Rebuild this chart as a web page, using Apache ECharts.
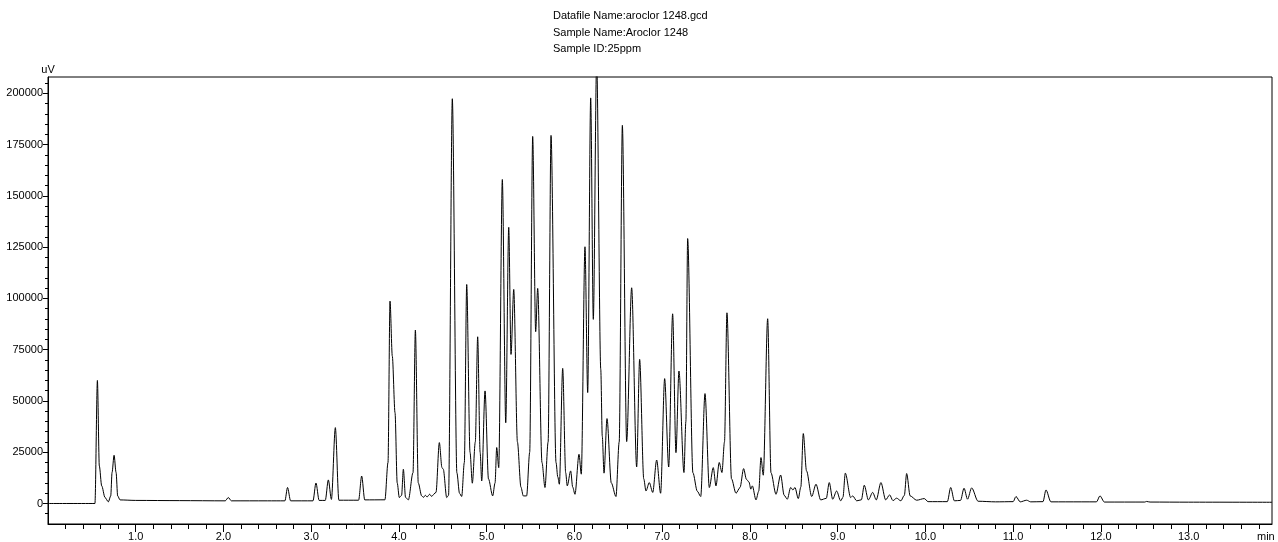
<!DOCTYPE html>
<html>
<head>
<meta charset="UTF-8">
<title>aroclor 1248</title>
<style>
    html, body { margin: 0; padding: 0; background: #fff; }
    #chart { width: 1278px; height: 542px; }
</style>
</head>
<body>
<div id="chart"></div>
<script src="https://cdn.jsdelivr.net/npm/echarts@6/dist/echarts.min.js"></script>
<script>
// chromatogram: [time (min), signal (uV)]
var solventPeaks = [
    [0, 0], [0.535, 0], [0.563, 60000], [0.585, 18300], [0.612, 8600], [0.65, 2900],
    [0.688, 800], [0.715, 3700], [0.73, 15100], [0.753, 23500], [0.776, 15100],
    [0.794, 3700], [0.821, 1750]
];
var earlyPeaks = [
    [1.0, 1500], [1.5, 1400], [2.02, 1300], [2.055, 2900], [2.09, 1300], [2.5, 1300],
    [2.70, 1300], [2.73, 7800], [2.765, 1300], [3.02, 1300], [3.054, 10000], [3.09, 1500],
    [3.16, 1500], [3.195, 11500], [3.23, 2000], [3.275, 37000], [3.315, 1600], [3.54, 1600],
    [3.575, 13400], [3.61, 1760], [3.84, 1800], [3.875, 20000], [3.898, 98700], [3.924, 71900],
    [3.955, 44300], [3.98, 10000], [4.004, 2900], [4.03, 4000], [4.05, 16700], [4.075, 3000],
    [4.107, 1760], [4.16, 15000], [4.187, 84600], [4.22, 10000], [4.259, 3700], [4.28, 3000],
    [4.30, 4000], [4.32, 3200], [4.35, 4500], [4.37, 3500], [4.422, 5400], [4.46, 29700],
    [4.49, 17500], [4.505, 16700], [4.544, 2900]
];
var mainCluster = [
    [4.565, 4000], [4.608, 197400], [4.66, 15000], [4.69, 5000], [4.715, 3400], [4.745, 20000],
    [4.772, 106800], [4.81, 25000], [4.836, 9900], [4.87, 30000], [4.897, 81300], [4.925, 25000],
    [4.943, 11000], [4.981, 54900], [5.02, 12000], [5.068, 3700], [5.095, 10000], [5.114, 27300],
    [5.137, 17500], [5.178, 158000], [5.217, 39400], [5.251, 134700], [5.277, 72700],
    [5.308, 104400], [5.35, 30000], [5.39, 8000], [5.417, 3700], [5.455, 3700], [5.49, 25000],
    [5.524, 179000], [5.558, 83800], [5.581, 104900], [5.63, 20000], [5.664, 7800], [5.70, 30000],
    [5.733, 179500], [5.79, 20000], [5.81, 13000], [5.828, 9400], [5.866, 65900], [5.90, 15000],
    [5.918, 8600], [5.957, 15900], [5.98, 8000], [6.006, 4500], [6.052, 24000], [6.078, 14300],
    [6.12, 125200], [6.151, 54100], [6.185, 197800], [6.215, 89800], [6.253, 216000],
    [6.30, 65400], [6.317, 32900], [6.337, 14800], [6.371, 41400], [6.42, 10000], [6.473, 3400],
    [6.51, 30000], [6.546, 184400], [6.595, 30200], [6.652, 105200], [6.709, 17800],
    [6.743, 70300], [6.79, 12000], [6.815, 6100], [6.853, 10200], [6.892, 5400], [6.937, 21200],
    [6.982, 5000], [7.028, 60900], [7.074, 17800], [7.119, 92500], [7.157, 24800], [7.191, 64600],
    [7.248, 15100], [7.27, 40000], [7.29, 129200], [7.35, 15000], [7.40, 6000], [7.439, 3400],
    [7.488, 53600], [7.537, 7800], [7.582, 17500], [7.613, 8600], [7.65, 20000], [7.681, 15100],
    [7.71, 30000], [7.738, 93000], [7.79, 12000], [7.841, 5000]
];
var latePeaks = [
    [7.887, 7800], [7.928, 17000], [7.96, 11800], [7.989, 10500], [8.01, 7000], [8.027, 8600],
    [8.069, 1750], [8.10, 6000], [8.126, 22400], [8.152, 13800], [8.202, 90100], [8.24, 15000],
    [8.297, 4500], [8.35, 13900], [8.39, 4000], [8.426, 2100], [8.464, 7800], [8.49, 6600],
    [8.513, 7800], [8.551, 2400], [8.58, 8000], [8.608, 34100], [8.645, 15900], [8.704, 3400],
    [8.753, 9400], [8.806, 1750], [8.87, 2500], [8.904, 10200], [8.943, 2100], [8.988, 6100],
    [9.034, 1300], [9.06, 3000], [9.087, 14800], [9.148, 2900], [9.171, 3700], [9.217, 1300],
    [9.27, 1800], [9.303, 8900], [9.35, 1750], [9.399, 5400], [9.44, 1750], [9.493, 10200],
    [9.547, 1750], [9.592, 4200], [9.63, 1400], [9.672, 2600], [9.72, 1300], [9.76, 4000],
    [9.786, 14600], [9.826, 3700], [9.90, 1600], [9.987, 2400], [10.03, 900], [10.25, 900],
    [10.288, 7800], [10.33, 1300], [10.40, 1500], [10.44, 7450], [10.48, 2100], [10.527, 7600],
    [10.60, 1100], [10.8, 800], [11.0, 900], [11.032, 3400], [11.08, 800], [11.154, 1600],
    [11.2, 800], [11.34, 900], [11.374, 6600], [11.43, 800], [11.6, 800], [11.95, 800],
    [11.989, 3700], [12.04, 700], [12.5, 700], [12.52, 1000], [12.56, 700], [13.0, 650],
    [13.95, 600]
];

var headerLines = ['Datafile Name:aroclor 1248.gcd', 'Sample Name:Aroclor 1248', 'Sample ID:25ppm'];
var xLabelValues = [1, 2, 3, 4, 5, 6, 7, 8, 9, 10, 11, 12, 13];
var yLabelValues = [0, 25000, 50000, 75000, 100000, 125000, 150000, 175000, 200000];

var xMinor = [];
for (var i = 1; i * 0.2 < 13.95; i++) {
    if (i % 5 !== 0) xMinor.push(+(i * 0.2).toFixed(1));
}
var yMinor = [];
for (var v = -5000; v <= 205000; v += 5000) {
    if (v % 25000 !== 0) yMinor.push(v);
}

var trace = solventPeaks.concat(earlyPeaks, mainCluster, latePeaks);

var font = 'Liberation Sans, Arial, sans-serif';
var chart = echarts.init(document.getElementById('chart'), null, { renderer: 'canvas' });

var option = {
    animation: false,
    backgroundColor: '#fff',
    title: {
        text: headerLines.join('\n'),
        left: 553,
        top: 8,
        padding: 0,
        textStyle: { fontSize: 11, fontWeight: 'normal', color: '#000', lineHeight: 16.5, fontFamily: font }
    },
    grid: {
        left: 48, right: 6, top: 77, bottom: 18,
        outerBoundsMode: 'none',
        containLabel: false,
        show: true, borderColor: '#000', borderWidth: 1
    },
    xAxis: [
        {
            type: 'value', min: 0, max: 13.95, position: 'bottom',
            axisLine: { onZero: false, lineStyle: { color: '#000', width: 1 } },
            axisTick: { customValues: xLabelValues, length: 8, lineStyle: { color: '#000' } },
            axisLabel: {
                customValues: xLabelValues, color: '#000', fontSize: 11, fontFamily: font, margin: 7,
                formatter: function (v) { return v.toFixed(1); }
            },
            splitLine: { show: false }
        },
        {
            type: 'value', min: 0, max: 13.95, position: 'bottom', offset: 0,
            axisLine: { show: false, onZero: false },
            axisTick: { customValues: xMinor, length: 5, lineStyle: { color: '#000' } },
            axisLabel: { show: false },
            splitLine: { show: false }
        }
    ],
    yAxis: [
        {
            type: 'value', min: -10000, max: 208000, position: 'left',
            name: 'uV', nameLocation: 'end', nameGap: 2,
            nameTextStyle: { color: '#000', fontSize: 11, fontFamily: font },
            axisLine: { show: true, onZero: false, lineStyle: { color: '#000', width: 1 } },
            axisTick: { show: true, customValues: yLabelValues, length: 5, lineStyle: { color: '#000' } },
            axisLabel: {
                customValues: yLabelValues, color: '#000', fontSize: 11, fontFamily: font, margin: 5,
                formatter: function (v) { return String(v); }
            },
            splitLine: { show: false }
        },
        {
            type: 'value', min: -10000, max: 208000, position: 'left', offset: 0,
            axisLine: { show: false, onZero: false },
            axisTick: { show: true, customValues: yMinor, length: 3, lineStyle: { color: '#000' } },
            axisLabel: { show: false },
            splitLine: { show: false }
        }
    ],
    graphic: [
        {
            type: 'text', left: 1257, top: 531,
            style: { text: 'min', fill: '#000', fontSize: 11, fontFamily: font }
        }
    ],
    series: [
        {
            type: 'line',
            data: trace,
            xAxisIndex: 0,
            yAxisIndex: 0,
            symbol: 'none',
            smooth: 0.3,
            smoothMonotone: 'x',
            clip: true,
            lineStyle: { color: '#000', width: 1 }
        }
    ]
};

chart.setOption(option);
</script>
</body>
</html>
